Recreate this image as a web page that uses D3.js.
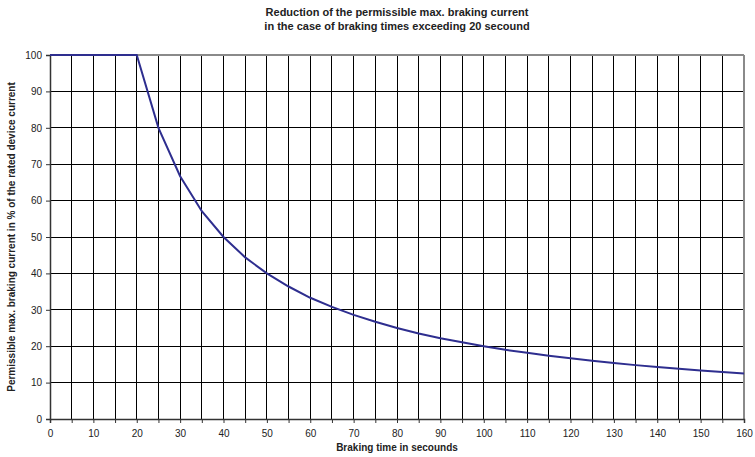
<!DOCTYPE html>
<html><head><meta charset="utf-8">
<script src="https://cdn.jsdelivr.net/npm/d3@7/dist/d3.min.js"></script>
<style>body{margin:0;background:#fff}svg{display:block}text{font-family:"Liberation Sans",Arial,sans-serif}</style>
</head><body><svg id="c" width="755" height="457"></svg>
<script>
const times = [0,5,10,15,20,25,30,35,40,45,50,55,60,65,70,75,80,85,90,95,100,105,110,115,120,125,130,135,140,145,150,155,160];
const current = [100,100,100,100,100,80,66.7,57.1,50,44.4,40,36.4,33.3,30.8,28.6,26.7,25,23.5,22.2,21.1,20,19.0,18.2,17.4,16.7,16,15.4,14.8,14.3,13.8,13.3,12.9,12.5];
const xTicks = [0,10,20,30,40,50,60,70,80,90,100,110,120,130,140,150,160];
const xGrid = d3.range(0,161,5);
const yTicks = [0,10,20,30,40,50,60,70,80,90,100];
const titleLines = ["Reduction of the permissible max. braking current","in the case of braking times exceeding 20 secound"];
const xTitle = "Braking time in secounds";
const yTitle = "Permissible max. braking current in % of the rated device current";

const svg = d3.select("#c");
const L=50,R=744,T=55,B=419;
const x = d3.scaleLinear().domain([0,160]).range([L,R]);
const y = d3.scaleLinear().domain([0,100]).range([B,T]);

// grid
svg.append("g").selectAll("line").data(xGrid).join("line")
  .attr("x1",d=>x(d)).attr("x2",d=>x(d)).attr("y1",T).attr("y2",B)
  .attr("stroke","#000").attr("stroke-width",1).attr("shape-rendering","crispEdges");
svg.append("g").selectAll("line").data(yTicks).join("line")
  .attr("x1",L).attr("x2",R).attr("y1",d=>y(d)).attr("y2",d=>y(d))
  .attr("stroke","#000").attr("stroke-width",1).attr("shape-rendering","crispEdges");
// top/right border gray
svg.append("line").attr("x1",L).attr("x2",R).attr("y1",T).attr("y2",T).attr("stroke","#8a8a8a").attr("stroke-width",2);
svg.append("line").attr("x1",R).attr("x2",R).attr("y1",T).attr("y2",B).attr("stroke","#8a8a8a").attr("stroke-width",2);

// axes
const xa = svg.append("g").attr("transform",`translate(0,${B})`)
  .call(d3.axisBottom(x).tickValues(xGrid).tickSize(4).tickFormat(d=>xTicks.includes(d)?d:""));
const ya = svg.append("g").attr("transform",`translate(${L},0)`)
  .call(d3.axisLeft(y).tickValues(yTicks).tickSize(4));
[xa,ya].forEach(a=>{
  a.select(".domain").attr("stroke","#333").attr("stroke-width",1.5);
  a.selectAll(".tick line").attr("stroke","#333");
  a.selectAll("text").attr("font-size",10).attr("fill","#222").style("font-family","'Liberation Sans',Arial,sans-serif");
});
xa.selectAll("text").attr("dy","1.05em");
ya.selectAll("text").attr("dx","-1px");

// curve
svg.append("path").datum(times.map((t,i)=>[t,current[i]]))
  .attr("fill","none").attr("stroke","#2e2e8f").attr("stroke-width",2)
  .attr("d",d3.line().x(d=>x(d[0])).y(d=>y(d[1])));

// titles
svg.append("g").selectAll("text").data(titleLines).join("text")
  .attr("x",397).attr("y",(d,i)=>16+i*14).attr("text-anchor","middle")
  .attr("font-size",11).attr("font-weight","bold").attr("fill","#222").text(d=>d);
svg.append("text").attr("x",397).attr("y",451).attr("text-anchor","middle")
  .attr("font-size",10).attr("font-weight","bold").attr("fill","#222").text(xTitle);
svg.append("text").attr("transform",`translate(15,${(T+B)/2}) rotate(-90)`).attr("text-anchor","middle")
  .attr("font-size",10).attr("font-weight","bold").attr("fill","#222").text(yTitle);
</script></body></html>
